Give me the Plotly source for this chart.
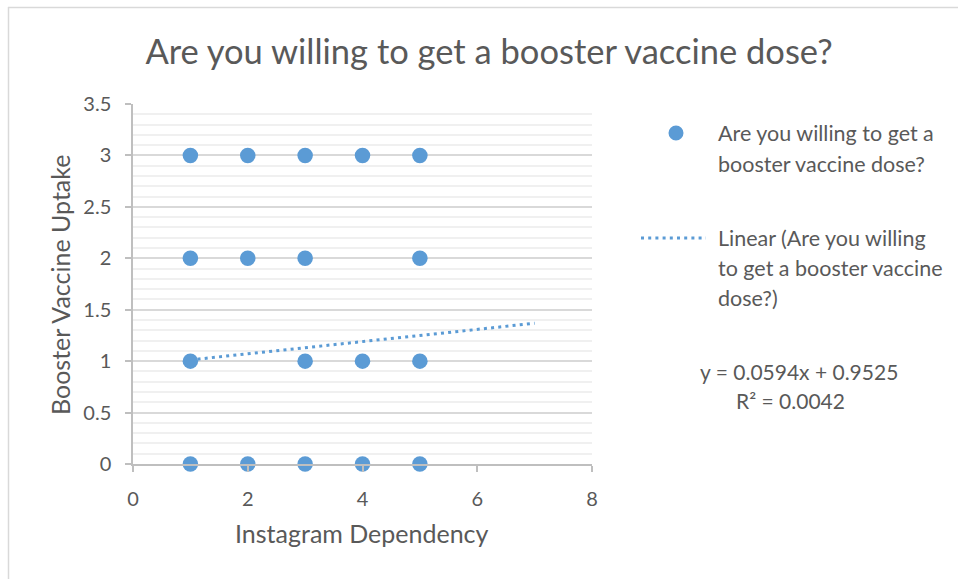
import plotly.graph_objects as go

# ---- data ----
instagram_dependency = [1, 2, 3, 4, 5, 1, 2, 3, 5, 1, 3, 4, 5, 1, 2, 3, 4, 5]
booster_uptake = [3, 3, 3, 3, 3, 2, 2, 2, 2, 1, 1, 1, 1, 0, 0, 0, 0, 0]
trend_slope = 0.0594
trend_intercept = 0.9525
trend_r2 = 0.0042
trend_x_range = [1, 7]

series_name = "Are you willing to get a booster vaccine dose?"
title_text = "Are you willing to get a booster vaccine dose?"
x_title = "Instagram Dependency"
y_title = "Booster Vaccine Uptake"

BLUE = "#5B9BD5"
TEXT = "#595959"
FONT = "Lato"
DOT = "3px,4.2px"

trend_y = [trend_slope * x + trend_intercept for x in trend_x_range]

fig = go.Figure()
fig.add_trace(go.Scatter(
    x=trend_x_range, y=trend_y, mode="lines",
    line=dict(color=BLUE, width=3, dash=DOT),
    showlegend=False, hoverinfo="skip", cliponaxis=False))
fig.add_trace(go.Scatter(
    x=instagram_dependency, y=booster_uptake, mode="markers",
    marker=dict(color=BLUE, size=15.5, line=dict(width=0)),
    name=series_name, showlegend=False, cliponaxis=False))

W, H = 958, 579
L, R, T, B = 133, 366, 104, 115
PW, PH = W - L - R, H - T - B

def px(x):
    return (x - L) / PW

def py(y):
    return (H - B - y) / PH

shapes = [
    # outer chart border (top + left visible)
    dict(type="line", xref="paper", yref="paper", x0=px(8), x1=px(960), y0=py(7.5), y1=py(7.5),
         line=dict(color="#D9D9D9", width=1.5)),
    dict(type="line", xref="paper", yref="paper", x0=px(8.5), x1=px(8.5), y0=py(7), y1=py(580),
         line=dict(color="#D9D9D9", width=1.5)),
    # legend symbols
    dict(type="circle", xref="paper", yref="paper", x0=px(668.5), x1=px(683.5), y0=py(125.5), y1=py(140.5),
         fillcolor=BLUE, line=dict(width=0)),
    dict(type="line", xref="paper", yref="paper", x0=px(641), x1=px(706), y0=py(238), y1=py(238),
         line=dict(color=BLUE, width=3, dash=DOT)),
]

def ann(text, x, y, size=21.5, xanchor="left", **kw):
    return dict(text=text, x=px(x), y=py(y), xref="paper", yref="paper", showarrow=False,
                xanchor=xanchor, yanchor="middle", font=dict(family=FONT, size=size, color=TEXT), **kw)

annotations = [
    ann("Are you willing to get a", 716, 133),
    ann("booster vaccine dose?", 716, 164),
    ann("Linear (Are you willing", 716, 238),
    ann("to get a booster vaccine", 716, 268),
    ann("dose?)", 716, 298),
    ann(f"y = {trend_slope}x + {trend_intercept}", 799, 371, size=21, xanchor="center"),
    ann(f"R² = {trend_r2}", 790, 400, size=21, xanchor="center"),
    ann(x_title, 362, 533, size=25, xanchor="center"),
    ann(y_title, 60, 285, size=25, xanchor="center", textangle=-90),
]

fig.update_layout(
    width=W, height=H,
    margin=dict(l=L, r=R, t=T, b=B, pad=0),
    paper_bgcolor="white", plot_bgcolor="white",
    font=dict(family=FONT, color=TEXT),
    title=dict(text=title_text, x=(489) / W, xanchor="center", y=1 - 52 / H, yanchor="middle",
               font=dict(family=FONT, size=34.5, color=TEXT)),
    showlegend=False,
    shapes=shapes,
    annotations=annotations,
    xaxis=dict(
        range=[0, 8], dtick=2, tick0=0, showgrid=False, zeroline=False,
        showline=True, linecolor="#BFBFBF", linewidth=1.5,
        ticks="outside", ticklen=6, tickcolor="#BFBFBF", tickwidth=1.5,
        tickfont=dict(family=FONT, size=20, color=TEXT), ticklabelstandoff=10,
    ),
    yaxis=dict(
        range=[0, 3.5], dtick=0.5, tick0=0, showgrid=True, gridcolor="#D9D9D9", gridwidth=1.5,
        zeroline=False, showline=True, linecolor="#BFBFBF", linewidth=1.5,
        ticks="outside", ticklen=6, tickcolor="#BFBFBF", tickwidth=1.5,
        tickfont=dict(family=FONT, size=20, color=TEXT), ticklabelstandoff=10,
        minor=dict(dtick=0.1, showgrid=True, gridcolor="#F0F0F0", gridwidth=1.5),
    ),
)

fig.write_html("out.html", config={"displayModeBar": False},
               post_script="document.body.style.margin='0';")
